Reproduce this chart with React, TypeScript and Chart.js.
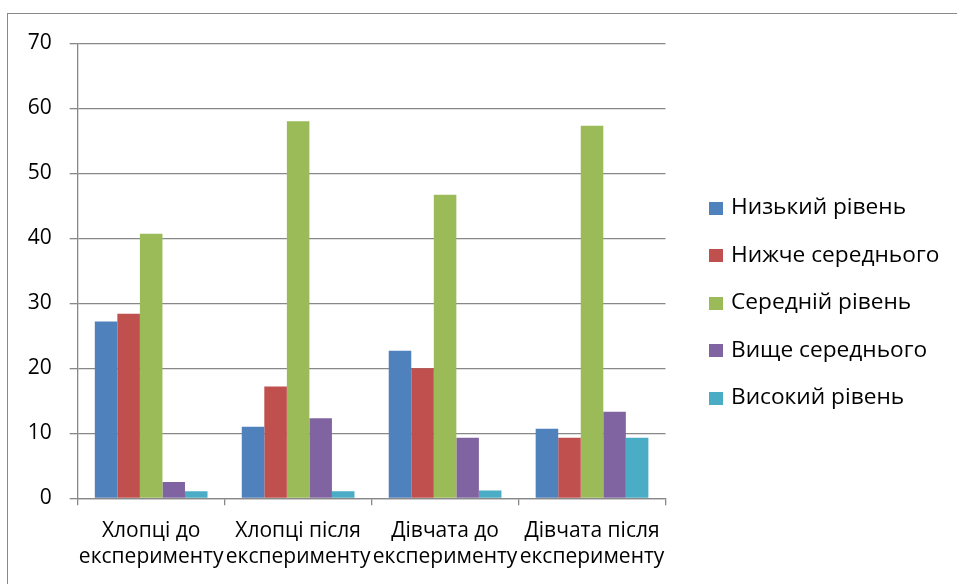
import React, { useEffect, useRef } from "react";
import { Chart, registerables } from "chart.js";

Chart.register(...registerables);

const categories: string[][] = [
  ["Хлопці до", "експерименту"],
  ["Хлопці після", "експерименту"],
  ["Дівчата до", "експерименту"],
  ["Дівчата після", "експерименту"],
];
const seriesNames = [
  "Низький рівень",
  "Нижче середнього",
  "Середній рівень",
  "Вище середнього",
  "Високий рівень",
];
const lowLevel = [27.2, 11.0, 22.7, 10.7];
const belowAverage = [28.4, 17.2, 20.0, 9.3];
const averageLevel = [40.7, 58.0, 46.7, 57.3];
const aboveAverage = [2.5, 12.3, 9.3, 13.3];
const highLevel = [1.1, 1.1, 1.2, 9.3];
const colors = ["#4F81BD", "#C0504D", "#9BBB59", "#8064A2", "#4BACC6"];
const yMin = 0;
const yMax = 70;
const yStep = 10;

const FONT = "'Open Sans', 'Noto Sans', sans-serif";

export default function App() {
  const ref = useRef<HTMLCanvasElement | null>(null);
  useEffect(() => {
    if (!ref.current) return;
    const values = [lowLevel, belowAverage, averageLevel, aboveAverage, highLevel];
    const chart = new Chart(ref.current, {
      type: "bar",
      data: {
        labels: categories,
        datasets: seriesNames.map((name, i) => ({
          label: name,
          data: values[i],
          backgroundColor: colors[i],
          borderWidth: 0,
          barPercentage: 1,
          categoryPercentage: 0.767,
        })),
      },
      options: {
        animation: false,
        responsive: false,
        maintainAspectRatio: false,
        layout: { padding: { left: 10, top: 43.3, right: 291.5, bottom: 0 } },
        plugins: { legend: { display: false }, tooltip: { enabled: false } },
        scales: {
          x: {
            offset: true,
            grid: {
              offset: true,
              drawOnChartArea: false,
              drawTicks: true,
              tickLength: 7,
              color: "#888888",
              lineWidth: 1.3,
            },
            border: { color: "#888888", width: 1.3 },
            ticks: {
              color: "#000",
              font: { family: FONT, size: 21, lineHeight: 1.24 },
              padding: 13,
              maxRotation: 0,
              autoSkip: false,
            },
            afterFit: (s: any) => {
              s.height = 584 - 498.3;
            },
          },
          y: {
            min: yMin,
            max: yMax,
            ticks: {
              stepSize: yStep,
              color: "#000",
              font: { family: FONT, size: 21 },
              padding: 18,
            },
            grid: {
              color: "#888888",
              lineWidth: 1.3,
              tickLength: 8,
            },
            border: { color: "#888888", width: 1.3 },
            afterFit: (s: any) => {
              s.width = 67.7;
            },
          },
        },
      },
    });
    return () => chart.destroy();
  }, []);

  const legendBaselines = [215, 262.5, 310, 357.5, 405];
  return (
    <div
      style={{
        position: "fixed",
        left: 0,
        top: 0,
        width: 957,
        height: 584,
        overflow: "hidden",
        background: "#fff",
      }}
    >
      <div
        style={{
          position: "absolute",
          left: 7,
          top: 13,
          width: 1000,
          height: 1000,
          border: "1px solid #888888",
        }}
      />
      <canvas
        ref={ref}
        width={957}
        height={584}
        style={{ position: "absolute", left: 0, top: 0, width: 957, height: 584 }}
      />
      {seriesNames.map((name, i) => (
        <React.Fragment key={name}>
          <div
            style={{
              position: "absolute",
              left: 709,
              top: legendBaselines[i] - 13.5,
              width: 14,
              height: 13,
              background: colors[i],
            }}
          />
          <div
            style={{
              position: "absolute",
              left: 731,
              top: legendBaselines[i] - 19.8,
              fontFamily: FONT,
              fontSize: 22.7,
              lineHeight: "22.7px",
              color: "#000",
              whiteSpace: "nowrap",
            }}
          >
            {name}
          </div>
        </React.Fragment>
      ))}
    </div>
  );
}
